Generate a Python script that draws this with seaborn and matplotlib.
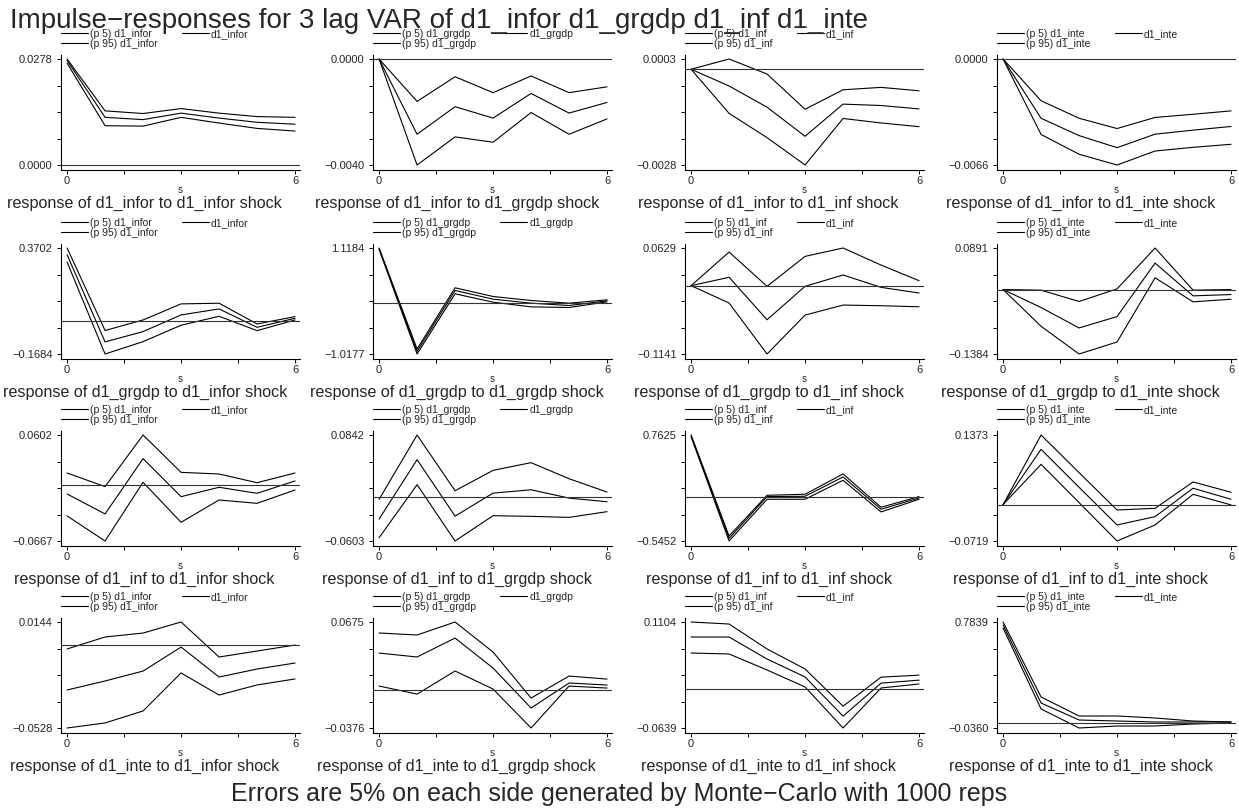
import numpy as np
import pandas as pd
import matplotlib
matplotlib.use('Agg')
import matplotlib.pyplot as plt
import seaborn as sns

# variables in the VAR (rows = response, columns = impulse)
var_names = ['d1_infor', 'd1_grgdp', 'd1_inf', 'd1_inte']
steps = [0, 1, 2, 3, 4, 5, 6]

# response of d1_infor
infor_lo = [[0.0267, 0.0103, 0.0102, 0.0125, 0.0110, 0.0096, 0.0089],
            [0, -0.0040, -0.00294, -0.00314, -0.00202, -0.00284, -0.00226],
            [0, -0.00129, -0.00200, -0.0028, -0.00144, -0.00157, -0.00168],
            [0, -0.0047, -0.00593, -0.0066, -0.00573, -0.0055, -0.00531]]
infor_irf = [[0.0274, 0.0125, 0.0119, 0.0136, 0.0123, 0.0112, 0.0107],
             [0, -0.00284, -0.0018, -0.00223, -0.0013, -0.00204, -0.00164],
             [0, -0.00049, -0.00111, -0.00196, -0.00102, -0.00106, -0.00116],
             [0, -0.00369, -0.00477, -0.00552, -0.00468, -0.00443, -0.0042]]
infor_hi = [[0.0278, 0.0142, 0.0135, 0.0148, 0.0136, 0.0127, 0.0125],
            [0, -0.0016, -0.00067, -0.00127, -0.00064, -0.00127, -0.00105],
            [0, 0.0003, -0.00014, -0.00117, -0.00060, -0.00053, -0.00063],
            [0, -0.0026, -0.00369, -0.00433, -0.00364, -0.00344, -0.00323]]

# response of d1_grgdp
grgdp_lo = [[0.2988, -0.1684, -0.1055, -0.0222, 0.0233, -0.0498, 0.0046],
            [1.0914, -1.0177, 0.1952, 0.0267, -0.0677, -0.0807, 0.0335],
            [0, -0.029, -0.1141, -0.0491, -0.0324, -0.0335, -0.0352],
            [0, -0.0789, -0.1384, -0.1126, 0.0252, -0.0265, -0.0208]]
grgdp_irf = [[0.3362, -0.107, -0.0545, 0.0301, 0.0607, -0.0328, 0.0131],
             [1.1049, -0.9638, 0.2626, 0.0874, 0.0065, -0.0407, 0.0537],
             [0, 0.014, -0.0569, -0.0011, 0.0178, -0.0028, -0.0123],
             [0, -0.0387, -0.0825, -0.0581, 0.0568, -0.0136, -0.0108]]
grgdp_hi = [[0.3702, -0.049, 0.0046, 0.0862, 0.0896, -0.0158, 0.0216],
            [1.1184, -0.9166, 0.3165, 0.1413, 0.0604, 0.0065, 0.0739],
            [0, 0.0562, -0.0011, 0.0489, 0.0629, 0.0344, 0.0083],
            [0, -0.0014, -0.0257, 0.0014, 0.0891, -0.0014, 0.0]]

# response of d1_inf
inf_lo = [[-0.0367, -0.0667, 0.0036, -0.0443, -0.0176, -0.0216, -0.0056],
          [-0.0558, 0.0165, -0.0603, -0.0258, -0.0267, -0.0281, -0.0203],
          [0.7420, -0.5452, -0.0303, -0.0303, 0.2041, -0.1865, -0.0303],
          [0, 0.0794, 0.0039, -0.0719, -0.0403, 0.0202, -0.0007]]
inf_irf = [[-0.0104, -0.0343, 0.0319, -0.0136, -0.0024, -0.0096, 0.0052],
           [-0.0304, 0.0506, -0.0264, 0.0050, 0.0095, -0.0018, -0.0068],
           [0.7543, -0.5123, 0.0026, 0.0067, 0.2452, -0.1536, -0.0139],
           [0, 0.1090, 0.0341, -0.0403, -0.0238, 0.0322, 0.0105]]
inf_hi = [[0.0147, -0.0016, 0.0602, 0.0155, 0.0135, 0.0031, 0.0147],
          [-0.0036, 0.0842, 0.0082, 0.0360, 0.0465, 0.0246, 0.0064],
          [0.7625, -0.4835, 0.0190, 0.0313, 0.2822, -0.1290, 0.0026],
          [0, 0.1373, 0.0630, -0.0107, -0.0074, 0.0446, 0.0243]]

# response of d1_inte
inte_lo = [[-0.0528, -0.0496, -0.0420, -0.0179, -0.0319, -0.0255, -0.0217],
           [0.0040, -0.0040, 0.0189, 0.0010, -0.0376, 0.0040, 0.0020],
           [0.0594, 0.0578, 0.0315, 0.0036, -0.0639, 0.0019, 0.0085],
           [0.7375, 0.1110, -0.0360, -0.0206, -0.0206, -0.0051, 0.0027]]
inte_irf = [[-0.0287, -0.0230, -0.0167, -0.0015, -0.0205, -0.0154, -0.0116],
            [0.0367, 0.0328, 0.0516, 0.0218, -0.0178, 0.0070, 0.0050],
            [0.0857, 0.0857, 0.0495, 0.0200, -0.0444, 0.0099, 0.0148],
            [0.7607, 0.1574, 0.0258, 0.0181, 0.0104, 0.0104, 0.0104]]
inte_hi = [[-0.0027, 0.0049, 0.0074, 0.0144, -0.0078, -0.0040, -0.0002],
           [0.0566, 0.0546, 0.0675, 0.0377, -0.0079, 0.0139, 0.0109],
           [0.1104, 0.1071, 0.0660, 0.0332, -0.0280, 0.0197, 0.0230],
           [0.7839, 0.2038, 0.0568, 0.0568, 0.0413, 0.0181, 0.0104]]

lows = [infor_lo, grgdp_lo, inf_lo, inte_lo]
irfs = [infor_irf, grgdp_irf, inf_irf, inte_irf]
highs = [infor_hi, grgdp_hi, inf_hi, inte_hi]

sns.set_style('white')
plt.rcParams['font.family'] = ['Liberation Sans', 'DejaVu Sans']
plt.rcParams['axes.unicode_minus'] = True

W, H = 1239, 810
fig = plt.figure(figsize=(W / 100, H / 100), dpi=100)

col_left = [61, 373, 685, 997]
row_top = [55, 244, 431, 618]
ax_w, ax_h = 239, 115
lw = 0.8


def fmt(v):
    return ('%.4f' % v).replace('-', '\u2212')


for r in range(4):
    for c in range(4):
        ax = fig.add_axes([col_left[c] / W, 1 - (row_top[r] + ax_h) / H, ax_w / W, ax_h / H])
        imp = var_names[c]
        df = pd.DataFrame({'s': steps, 'lo': lows[r][c], 'irf': irfs[r][c], 'hi': highs[r][c]})

        sns.lineplot(data=df, x='s', y='lo', ax=ax, color='black', linewidth=lw, label='(p 5) ' + imp)
        sns.lineplot(data=df, x='s', y='hi', ax=ax, color='black', linewidth=lw, label='(p 95) ' + imp)
        sns.lineplot(data=df, x='s', y='irf', ax=ax, color='black', linewidth=lw, label=imp)
        ax.axhline(0, color='#333333', linewidth=lw)

        ymin = min(0, df[['lo', 'irf', 'hi']].min().min())
        ymax = max(0, df[['lo', 'irf', 'hi']].max().max())
        rng = ymax - ymin
        ax.set_xlim(-0.16, 6.13)
        ax.set_ylim(ymin - rng * 5 / 106, ymax + rng * 4 / 106)

        yt = np.linspace(ymin, ymax, 5)
        ax.set_yticks(yt)
        ax.set_yticklabels([fmt(ymin), '', '', '', fmt(ymax)])
        ax.set_xticks([0, 1.5, 3, 4.5, 6])
        ax.set_xticklabels(['0', '', '', '', '6'])
        ax.tick_params(axis='both', direction='out', length=3, width=0.7, color='black',
                       labelsize=8, pad=1.5, left=True, bottom=True)
        ax.tick_params(axis='y', pad=3)
        ax.set_xlabel('')
        ax.set_ylabel('')
        sns.despine(ax=ax)
        for sp in ['left', 'bottom']:
            ax.spines[sp].set_color('black')
            ax.spines[sp].set_linewidth(0.8)

        ax.text(0.5, -20 / ax_h, 's', transform=ax.transAxes, ha='center', va='center', fontsize=7)
        ax.text(0.35, -33 / ax_h, 'response of %s to %s shock' % (var_names[r], imp),
                transform=ax.transAxes, ha='center', va='center', fontsize=11.6)

        handles, labels = ax.get_legend_handles_labels()
        ax.legend(handles, labels, ncol=2, loc='lower left', bbox_to_anchor=(0, 1 + 6 / ax_h),
                  frameon=False, fontsize=7.5, borderpad=0, borderaxespad=0, labelspacing=0.0,
                  handlelength=2.6, handletextpad=0.2, columnspacing=2.3)

fig.text(10 / W, 1 - 28 / H, 'Impulse\u2212responses for 3 lag VAR of d1_infor d1_grgdp d1_inf d1_inte',
         fontsize=20, ha='left', va='baseline')
fig.text(0.5, 1 - 801 / H, 'Errors are 5% on each side generated by Monte\u2212Carlo with 1000 reps',
         fontsize=18, ha='center', va='baseline')

fig.savefig('out.png', dpi=100)
